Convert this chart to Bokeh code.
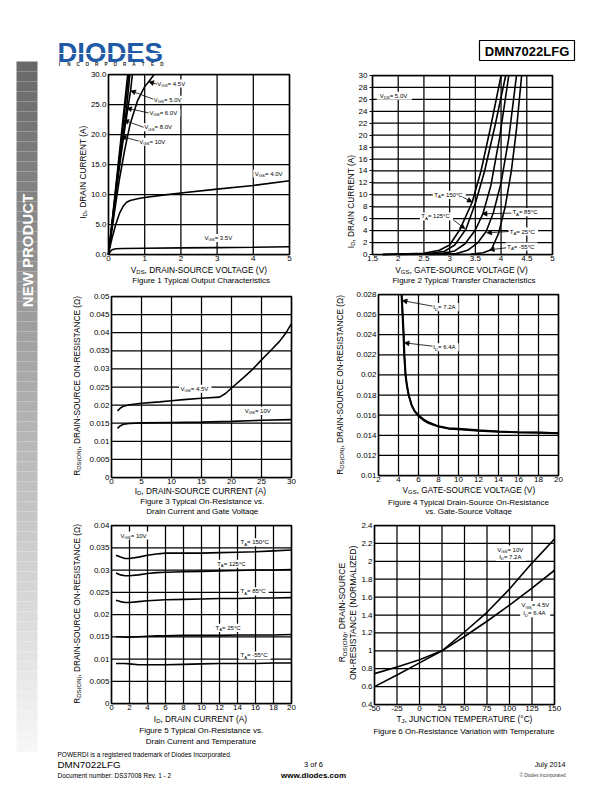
import re, math
from bokeh.plotting import figure
from bokeh.models import Range1d, FixedTicker, Label, Arrow, NormalHead, BoxAnnotation
from bokeh.layouts import row, column
from bokeh.embed import file_html
from bokeh.resources import INLINE

FONT = "Liberation Sans"

# ---------------- Figure 1 : output characteristics ----------------
F1_VDS_10V = [0, 0.1, 0.2, 0.35, 0.53]
F1_ID_10V = [0, 5.5, 11.2, 19.7, 30]
F1_VDS_8V = [0, 0.1, 0.2, 0.42, 0.56]
F1_ID_8V = [0, 5.3, 10.7, 22.4, 30]
F1_VDS_6V = [0, 0.1, 0.2, 0.3, 0.5, 0.59]
F1_ID_6V = [0, 5.2, 10.3, 15.2, 24.4, 30]
F1_VDS_5V = [0, 0.1, 0.2, 0.3, 0.45, 0.61, 0.66]
F1_ID_5V = [0, 5.0, 9.8, 14.5, 21.0, 27.3, 30]
F1_VDS_45V = [0, 0.1, 0.2, 0.3, 0.45, 0.6, 0.8, 1.0, 1.11, 1.26]
F1_ID_45V = [0, 4.3, 8.5, 12.5, 17.5, 21.8, 25.6, 28.0, 28.8, 30]
F1_VDS_4V = [0, 0.05, 0.1, 0.2, 0.3, 0.4, 0.5, 0.6, 0.8, 1.0, 1.5, 2, 3, 4, 5]
F1_ID_4V = [0, 1.5, 2.8, 5.0, 6.8, 8.0, 8.7, 9.0, 9.3, 9.5, 9.9, 10.25, 10.9, 11.5, 12.3]
F1_VDS_35V = [0, 0.05, 0.1, 0.2, 0.4, 1, 2, 3, 4, 5]
F1_ID_35V = [0, 0.5, 0.8, 0.95, 1.0, 1.05, 1.1, 1.15, 1.2, 1.3]
F1_XT = [0, 1, 2, 3, 4, 5]
F1_XL = ["0", "1", "2", "3", "4", "5"]
F1_YT = [0, 5, 10, 15, 20, 25, 30]
F1_YL = ["0.0", "5.0", "10.0", "15.0", "20.0", "25.0", "30.0"]
F1_NOTES = [("V_{GS} = 4.5V", 1.35, 28.5), ("V_{GS} = 5.0V", 1.25, 25.8),
            ("V_{GS} = 6.0V", 1.13, 23.6), ("V_{GS} = 8.0V", 0.99, 21.2),
            ("V_{GS} = 10V", 0.85, 18.8), ("V_{GS} = 4.0V", 4.04, 13.5),
            ("V_{GS} = 3.5V", 2.65, 2.75)]
F1_ARROWS = [(1.34, 28.4, 1.11, 28.8), (1.23, 25.9, 0.61, 27.3), (1.11, 23.6, 0.50, 24.4),
             (0.97, 21.2, 0.42, 22.4), (0.83, 18.9, 0.35, 19.7)]

# ---------------- Figure 2 : transfer characteristics ----------------
F2_VGS_150 = [1.7, 2.5, 2.8, 3.0, 3.2, 3.44, 3.61, 3.8, 4.0]
F2_ID_150 = [0, 0.2, 0.7, 1.6, 4.2, 8.8, 14.0, 21.5, 30]
F2_VGS_125 = [1.7, 2.6, 2.9, 3.1, 3.32, 3.5, 3.68, 3.88, 4.09]
F2_ID_125 = [0, 0.15, 0.55, 1.6, 4.3, 8.6, 14.0, 21.5, 30]
F2_VGS_85 = [1.7, 2.8, 3.1, 3.3, 3.5, 3.65, 3.8, 3.97, 4.15]
F2_ID_85 = [0, 0.1, 0.6, 1.8, 4.1, 6.9, 11.5, 19.5, 30]
F2_VGS_25 = [2.0, 3.1, 3.35, 3.55, 3.71, 3.85, 4.0, 4.15, 4.30]
F2_ID_25 = [0, 0.1, 0.7, 2.0, 3.85, 7.0, 12.0, 19.5, 30]
F2_VGS_M55 = [2.6, 3.4, 3.65, 3.81, 3.95, 4.08, 4.2, 4.3, 4.40]
F2_ID_M55 = [0, 0.05, 0.3, 0.8, 3.5, 8.0, 14.0, 21.0, 30]
F2_XT = [1.5, 2, 2.5, 3, 3.5, 4, 4.5, 5]
F2_XL = ["1.5", "2", "2.5", "3", "3.5", "4", "4.5", "5"]
F2_YT = [0, 2, 4, 6, 8, 10, 12, 14, 16, 18, 20, 22, 24, 26, 28, 30]
F2_YL = ["0", "2", "4", "6", "8", "10", "12", "14", "16", "18", "20", "22", "24", "26", "28", "30"]
F2_NOTES = [("T_{A} = 150°C", 2.70, 10.0), ("T_{A} = 125°C", 2.45, 6.37),
            ("T_{A} = 85°C", 4.22, 7.1), ("T_{A} = 25°C", 4.17, 3.85),
            ("T_{A} = -55°C", 4.12, 1.34)]
F2_ARROWS = [(3.26, 9.6, 3.44, 8.77), (3.07, 5.8, 3.30, 4.3), (4.20, 6.93, 3.63, 6.82),
             (4.15, 3.85, 3.72, 3.63), (4.10, 1.12, 3.77, 0.78)]

# ---------------- Figure 3 : Rds(on) vs ID and VGS ----------------
F3_ID_45 = [1, 1.5, 2, 3, 5, 8, 10, 12, 15, 18, 19, 20.2, 22, 23.6, 25, 26.5, 28, 29.1, 30]
F3_R_45 = [0.0184, 0.0192, 0.0197, 0.0201, 0.0205, 0.0209, 0.0212, 0.0215, 0.0219, 0.0222,
           0.0232, 0.025, 0.0276, 0.030, 0.0325, 0.035, 0.0376, 0.040, 0.0425]
F3_ID_10 = [1, 1.5, 2, 3, 5, 10, 15, 20, 25, 30]
F3_R_10 = [0.0136, 0.0143, 0.0147, 0.0149, 0.0151, 0.0152, 0.0153, 0.0155, 0.0158, 0.0160]
F3_XT = [0, 5, 10, 15, 20, 25, 30]
F3_XL = ["0", "5", "10", "15", "20", "25", "30"]
F3_YT = [0, 0.005, 0.01, 0.015, 0.02, 0.025, 0.03, 0.035, 0.04, 0.045, 0.05]
F3_YL = ["0", "0.005", "0.01", "0.015", "0.02", "0.025", "0.03", "0.035", "0.04", "0.045", "0.05"]
F3_NOTES = [("V_{GS} = 4.5V", 11.5, 0.0245), ("V_{GS} = 10V", 22.2, 0.0184)]

# ---------------- Figure 4 : Rds(on) vs VGS ----------------
F4_VGS_72 = [4.29, 4.39, 4.49, 4.56, 4.69, 4.82, 5.0, 5.3, 5.6, 6.0, 6.5, 7, 8, 9, 10, 12, 14, 16, 18, 20]
F4_R_72 = [0.028, 0.026, 0.024, 0.022, 0.020, 0.0190, 0.0180, 0.0170, 0.0164, 0.0160, 0.0156, 0.0153,
           0.0149, 0.0147, 0.01465, 0.0145, 0.01438, 0.0143, 0.01428, 0.01422]
F4_VGS_64 = [4.33, 4.43, 4.53, 4.6, 4.72, 4.85, 5.03, 5.32, 5.62, 6.0, 6.5, 7, 8, 9, 10, 12, 14, 16, 18, 20]
F4_R_64 = [0.028, 0.026, 0.024, 0.022, 0.020, 0.0190, 0.0180, 0.0170, 0.0164, 0.0159, 0.0155, 0.0152,
           0.01485, 0.01465, 0.0146, 0.01445, 0.01435, 0.01428, 0.01425, 0.0142]
F4_XT = [2, 4, 6, 8, 10, 12, 14, 16, 18, 20]
F4_XL = ["2", "4", "6", "8", "10", "12", "14", "16", "18", "20"]
F4_YT = [0.01, 0.012, 0.014, 0.016, 0.018, 0.02, 0.022, 0.024, 0.026, 0.028]
F4_YL = ["0.01", "0.012", "0.014", "0.016", "0.018", "0.02", "0.022", "0.024", "0.026", "0.028"]
F4_NOTES = [("I_{D} = 7.2A", 7.47, 0.02674), ("I_{D} = 6.4A", 7.47, 0.02276)]
F4_ARROWS = [(7.4, 0.02684, 4.36, 0.0274), (7.4, 0.02286, 4.56, 0.0232)]

# ---------------- Figure 5 : Rds(on) vs ID and temperature ----------------
F5_ID = [0.5, 1, 1.5, 2, 3, 4, 5, 6, 8, 10, 12, 14, 16, 18, 20]
F5_R_150 = [0.0333, 0.0329, 0.0326, 0.0326, 0.0329, 0.0333, 0.0336, 0.0338, 0.0338, 0.0338,
            0.0339, 0.0340, 0.0341, 0.0343, 0.0345]
F5_R_125 = [0.0293, 0.0289, 0.0287, 0.0287, 0.0289, 0.0292, 0.0294, 0.0295, 0.0296, 0.0297,
            0.0298, 0.0299, 0.0300, 0.0300, 0.0301]
F5_R_85 = [0.0232, 0.0229, 0.0227, 0.0227, 0.0229, 0.0231, 0.0232, 0.0233, 0.0234, 0.0235,
           0.0236, 0.0236, 0.0237, 0.0237, 0.0238]
F5_R_25 = [0.0150, 0.0150, 0.0149, 0.0149, 0.0150, 0.0151, 0.0152, 0.0152, 0.0153, 0.0153,
           0.0153, 0.0154, 0.0154, 0.0154, 0.0155]
F5_R_M55 = [0.0090, 0.0090, 0.0090, 0.0089, 0.0087, 0.0087, 0.0087, 0.0087, 0.0088, 0.0089,
            0.0090, 0.0090, 0.0090, 0.0091, 0.0091]
F5_XT = [0, 2, 4, 6, 8, 10, 12, 14, 16, 18, 20]
F5_XL = ["0", "2", "4", "6", "8", "10", "12", "14", "16", "18", "20"]
F5_YT = [0, 0.005, 0.01, 0.015, 0.02, 0.025, 0.03, 0.035, 0.04]
F5_YL = ["0", "0.005", "0.01", "0.015", "0.02", "0.025", "0.03", "0.035", "0.04"]
F5_NOTES = [("V_{GS} = 10V", 1.0, 0.03775), ("T_{A} = 150°C", 14.33, 0.03625),
            ("T_{A} = 125°C", 11.74, 0.0314), ("T_{A} = 85°C", 14.33, 0.0252),
            ("T_{A} = 25°C", 11.56, 0.0170), ("T_{A} = -55°C", 14.33, 0.0108)]

# ---------------- Figure 6 : Rds(on) vs temperature ----------------
F6_TJ = [-50, -25, 0, 25, 50, 75, 100, 125, 150]
F6_R_10V = [0.60, 0.73, 0.865, 1.0, 1.21, 1.43, 1.69, 1.98, 2.25]
F6_R_45V = [0.745, 0.82, 0.90, 1.0, 1.16, 1.33, 1.51, 1.70, 1.90]
F6_XT = [-50, -25, 0, 25, 50, 75, 100, 125, 150]
F6_XL = ["-50", "-25", "0", "25", "50", "75", "100", "125", "150"]
F6_YT = [0.4, 0.6, 0.8, 1.0, 1.2, 1.4, 1.6, 1.8, 2.0, 2.2, 2.4]
F6_YL = ["0.4", "0.6", "0.8", "1", "1.2", "1.4", "1.6", "1.8", "2", "2.2", "2.4"]
F6_NOTES = [("V_{GS} = 10V", 86.3, 2.13), ("I_{D} = 7.2A", 88.5, 2.05),
            ("V_{GS} = 4.5V", 113.3, 1.51), ("I_{D} = 6.4A", 115.2, 1.42)]

# ---------------- text helpers ----------------
ARIAL = {' ': 278, '!': 278, '(': 333, ')': 333, ',': 278, '-': 333, '.': 278, '/': 278, ':': 278,
         '=': 584, '°': 400, 'Ω': 768, '©': 737,
         'A': 667, 'B': 667, 'C': 722, 'D': 722, 'E': 667, 'F': 611, 'G': 778, 'H': 722, 'I': 278,
         'J': 500, 'K': 667, 'L': 556, 'M': 833, 'N': 722, 'O': 778, 'P': 667, 'Q': 778, 'R': 722,
         'S': 667, 'T': 611, 'U': 722, 'V': 667, 'W': 944, 'X': 667, 'Y': 667, 'Z': 611,
         'a': 556, 'b': 556, 'c': 500, 'd': 556, 'e': 556, 'f': 278, 'g': 556, 'h': 556, 'i': 222,
         'j': 222, 'k': 500, 'l': 222, 'm': 833, 'n': 556, 'o': 556, 'p': 556, 'q': 556, 'r': 333,
         's': 500, 't': 278, 'u': 556, 'v': 500, 'w': 722, 'x': 500, 'y': 500, 'z': 500}
SUB_RE = re.compile(r'_\{([^}]*)\}')


def text_w(s, size):
    return sum(ARIAL.get(c, 556) for c in s) / 1000.0 * size


def segments(s):
    out, pos = [], 0
    for m in SUB_RE.finditer(s):
        if m.start() > pos:
            out.append((s[pos:m.start()], False))
        out.append((m.group(1), True))
        pos = m.end()
    if pos < len(s):
        out.append((s[pos:], False))
    return out


def rich_width(s, size):
    return sum(text_w(t, size * 0.72 if sb else size) for t, sb in segments(s))


def rich(p, x, y, s, size, align="left", angle=0.0, color="black", bold=False):
    segs = segments(s)
    total = rich_width(s, size)
    off = {"left": 0.0, "center": -total / 2.0, "right": -total}[align]
    for t, sb in segs:
        sz = size * 0.72 if sb else size
        perp = -size * 0.32 if sb else 0.0
        if angle == 0:
            xo, yo = off, perp
        else:
            xo, yo = -perp, off
        p.add_layout(Label(x=x, y=y, x_offset=xo, y_offset=yo, text=t, angle=angle,
                           text_font=FONT, text_font_size="%.1fpx" % sz,
                           text_font_style="bold" if bold else "normal",
                           text_color=color, text_align="left", text_baseline="middle"))
        off += text_w(t, sz)


class Chart:
    """A chart cell whose plot frame fills the whole cell; the chart box is placed inside it
    by the data ranges and its axes are pinned to the box edges (fixed_location)."""

    def __init__(self, origin, size, box, xr, yr, xt, xl, yt, yl, ytick_out=0):
        ox, oy = origin
        w, h = size
        self.fl, self.ft, self.fr, self.fb = box
        self.xr, self.yr = xr, yr
        self.sx = (xr[1] - xr[0]) / (self.fr - self.fl)
        self.sy = (yr[1] - yr[0]) / (self.fb - self.ft)
        X0 = xr[0] - (self.fl - ox) * self.sx
        X1 = xr[1] + (ox + w - self.fr) * self.sx
        Y0 = yr[0] - (oy + h - self.fb) * self.sy
        Y1 = yr[1] + (self.ft - oy) * self.sy
        p = figure(width=w, height=h, x_range=Range1d(X0, X1), y_range=Range1d(Y0, Y1),
                   output_backend="svg", toolbar_location=None, min_border=0)
        p.outline_line_color = None
        p.grid.visible = False
        p.xaxis.fixed_location = yr[0]
        p.yaxis.fixed_location = xr[0]
        p.xaxis.bounds = xr
        p.yaxis.bounds = yr
        p.xaxis.ticker = FixedTicker(ticks=xt)
        p.xaxis.major_label_overrides = {t: l for t, l in zip(xt, xl)}
        p.yaxis.ticker = FixedTicker(ticks=yt)
        p.yaxis.major_label_overrides = {t: l for t, l in zip(yt, yl)}
        for ax in (p.xaxis[0], p.yaxis[0]):
            ax.axis_line_color = None
            ax.minor_tick_line_color = None
            ax.major_tick_in = 0
            ax.major_tick_out = 0
            ax.major_label_text_font = FONT
            ax.major_label_text_font_size = "8px"
            ax.major_label_text_color = "black"
        p.xaxis.major_label_standoff = 1
        p.yaxis.major_label_standoff = 2
        if ytick_out:
            p.yaxis.major_tick_out = ytick_out
            p.yaxis.major_tick_line_color = "black"
            p.yaxis.major_tick_line_width = 1.2
        # grid lines at the tick values, limited to the chart box
        p.segment(x0=xt, y0=[yr[0]] * len(xt), x1=xt, y1=[yr[1]] * len(xt),
                  line_color="black", line_width=1.25)
        p.segment(x0=[xr[0]] * len(yt), y0=yt, x1=[xr[1]] * len(yt), y1=yt,
                  line_color="black", line_width=1.25)
        self.p = p

    def frame(self):
        self.p.quad(left=self.xr[0], right=self.xr[1], bottom=self.yr[0], top=self.yr[1],
                    fill_color=None, line_color="black", line_width=1.5)

    def d(self, px, py):
        return self.xr[0] + (px - self.fl) * self.sx, self.yr[0] + (self.fb - py) * self.sy

    def text(self, px, py, s, size=8.0, align="center", angle=0.0):
        x, y = self.d(px, py)
        rich(self.p, x, y, s, size, align=align, angle=angle)

    def note(self, x, y, s, size=6.0, pad=1.5):
        total = rich_width(s, size)
        self.p.rect(x=x + (total / 2.0) * self.sx, y=y, width=total + 2 * pad, height=size * 1.35,
                    width_units="screen", height_units="screen", fill_color="white", line_color=None)
        rich(self.p, x, y, s, size)

    def arrow(self, x0, y0, x1, y1):
        self.p.add_layout(Arrow(end=NormalHead(size=5, fill_color="black", line_color="black", line_width=0.5),
                                x_start=x0, y_start=y0, x_end=x1, y_end=y1,
                                line_color="black", line_width=0.8))

    def curve(self, xs, ys, w=1.6):
        self.p.line(xs, ys, line_color="black", line_width=w)


YLAB_I = "I_{D}, DRAIN CURRENT (A)"
YLAB_R = "R_{DS(ON)}, DRAIN-SOURCE ON-RESISTANCE (Ω)"
AX = 8.3
CAP = 8.0
UP = math.pi / 2

# ---- Figure 1
c1 = Chart((48, 66), (278, 221), (108, 74, 289, 254), (0, 5), (0, 30), F1_XT, F1_XL, F1_YT, F1_YL)
for s, x, y in F1_NOTES:
    c1.note(x, y, s)
for xs, ys in [(F1_VDS_10V, F1_ID_10V), (F1_VDS_8V, F1_ID_8V), (F1_VDS_6V, F1_ID_6V),
               (F1_VDS_5V, F1_ID_5V), (F1_VDS_45V, F1_ID_45V), (F1_VDS_4V, F1_ID_4V),
               (F1_VDS_35V, F1_ID_35V)]:
    c1.curve(xs, ys)
c1.frame()
for a in F1_ARROWS:
    c1.arrow(*a)
c1.text(82, 171.7, YLAB_I, AX, angle=UP)
c1.text(199, 269.3, "V_{DS}, DRAIN-SOURCE VOLTAGE (V)", AX)
c1.text(201, 279.5, "Figure 1 Typical Output Characteristics", CAP)

# ---- Figure 2
c2 = Chart((326, 66), (278, 221), (372, 75, 552, 254), (1.5, 5), (0, 30), F2_XT, F2_XL, F2_YT, F2_YL, ytick_out=3)
c2.note(1.64, 26.6, "V_{DS} = 5.0V", pad=3)
for s, x, y in F2_NOTES:
    c2.note(x, y, s)
for xs, ys in [(F2_VGS_150, F2_ID_150), (F2_VGS_125, F2_ID_125), (F2_VGS_85, F2_ID_85),
               (F2_VGS_25, F2_ID_25), (F2_VGS_M55, F2_ID_M55)]:
    c2.curve(xs, ys)
c2.frame()
for a in F2_ARROWS:
    c2.arrow(*a)
c2.text(350, 201, YLAB_I, AX, angle=UP)
c2.text(462, 269, "V_{GS}, GATE-SOURCE VOLTAGE (V)", AX)
c2.text(464, 279.5, "Figure 2 Typical Transfer Characteristics", CAP)

# ---- Figure 3
c3 = Chart((48, 287), (278, 228), (111, 296, 291, 477), (0, 30), (0, 0.05), F3_XT, F3_XL, F3_YT, F3_YL)
for s, x, y in F3_NOTES:
    c3.note(x, y, s)
c3.curve(F3_ID_45, F3_R_45)
c3.curve(F3_ID_10, F3_R_10)
c3.frame()
c3.text(76, 385, YLAB_R, AX, angle=UP)
c3.text(200, 490, "I_{D}, DRAIN-SOURCE CURRENT (A)", AX)
c3.text(202, 500.5, "Figure 3 Typical On-Resistance vs.", CAP)
c3.text(202, 511, "Drain Current and Gate Voltage", CAP)

# ---- Figure 4
c4 = Chart((326, 287), (278, 228), (378, 294, 558, 475), (2, 20), (0.01, 0.028), F4_XT, F4_XL, F4_YT, F4_YL)
for s, x, y in F4_NOTES:
    c4.note(x, y, s)
c4.curve(F4_VGS_72, F4_R_72, 1.8)
c4.curve(F4_VGS_64, F4_R_64, 1.8)
c4.frame()
for a in F4_ARROWS:
    c4.arrow(*a)
c4.text(339.3, 384, YLAB_R, AX, angle=UP)
c4.text(469.3, 489, "V_{GS}, GATE-SOURCE VOLTAGE (V)", AX)
c4.text(468.3, 501.5, "Figure 4 Typical Drain-Source On-Resistance", CAP)
c4.text(468.3, 510.5, "vs. Gate-Source Voltage", CAP)

# ---- Figure 5
c5 = Chart((48, 515), (278, 230), (111, 525, 291, 703), (0, 20), (0, 0.04), F5_XT, F5_XL, F5_YT, F5_YL)
for s, x, y in F5_NOTES:
    c5.note(x, y, s)
for ys in [F5_R_150, F5_R_125, F5_R_85, F5_R_25, F5_R_M55]:
    c5.curve(F5_ID, ys)
c5.frame()
c5.text(76, 613, YLAB_R, AX, angle=UP)
c5.text(200, 718, "I_{D}, DRAIN CURRENT (A)", AX)
c5.text(201, 729.5, "Figure 5 Typical On-Resistance vs.", CAP)
c5.text(201, 740.5, "Drain Current and Temperature", CAP)

# ---- Figure 6
c6 = Chart((326, 515), (278, 230), (374, 525, 554, 704), (-50, 150), (0.4, 2.4), F6_XT, F6_XL, F6_YT, F6_YL)
for s, x, y in F6_NOTES:
    c6.note(x, y, s, pad=3)
c6.curve(F6_TJ, F6_R_10V)
c6.curve(F6_TJ, F6_R_45V)
c6.frame()
c6.text(341, 612, "R_{DS(ON)}, DRAIN-SOURCE", 8.6, angle=UP)
c6.text(352.7, 612, "ON-RESISTANCE (NORMALIZED)", 8.6, angle=UP)
c6.text(464.3, 718, "T_{J}, JUNCTION TEMPERATURE (°C)", AX)
c6.text(464.3, 730.5, "Figure 6 On-Resistance Variation with Temperature", CAP)


# ---------------- page decorations ----------------
def canvas(w, h):
    p = figure(width=w, height=h, x_range=Range1d(0, w), y_range=Range1d(0, h),
               x_axis_type=None, y_axis_type=None, output_backend="svg",
               toolbar_location=None, min_border=0)
    p.grid.visible = False
    p.outline_line_color = None
    return p


def lab(p, x, y, s, size, align="left", bold=False, color="black", angle=0.0):
    p.add_layout(Label(x=x, y=y, text=s, text_font=FONT, text_font_size="%.1fpx" % size,
                       text_font_style="bold" if bold else "normal", text_color=color,
                       text_align=align, text_baseline="middle", angle=angle))


# sidebar (page x 0..48)
SB_H = 785
side = canvas(48, SB_H)
n = 69
tops, bots, cols = [], [], []
for i in range(n):
    py0 = 61 + i * 10
    tops.append(SB_H - py0)
    bots.append(SB_H - (py0 + 10))
    g = int(round(105 + (246 - 105) * i / (n - 1)))
    cols.append("#%02x%02x%02x" % (g, g, g))
side.quad(left=16, right=37, top=tops, bottom=bots, fill_color=cols, line_color=None)
lab(side, 27, SB_H - 250, "NEW PRODUCT", 15, align="center", bold=True, color="white", angle=UP)

# header (page x 48..604, y 0..66)
HH = 66
head = canvas(556, HH)
lab(head, 9, HH - 51.5, "DIODES", 27.5, bold=True, color="#1f5aa6")
head.add_layout(BoxAnnotation(left=8, right=118, bottom=HH - 53.4, top=HH - 52.4,
                              fill_color="white", fill_alpha=1.0, line_color=None))
for i, ch in enumerate("INCORPORATED"):
    lab(head, 11 + i * 9.3, HH - 64, ch, 4.6, align="center", bold=True, color="#222222")
head.quad(left=431, right=526, top=HH - 40, bottom=HH - 60, fill_color=None, line_color="black", line_width=1.2)
lab(head, 478.5, HH - 50.5, "DMN7022LFG", 13, align="center", bold=True)

# footer (page x 48..604, y 745..785)
FH = 40
foot = canvas(556, FH)
lab(foot, 9, FH - 9, "POWERDI is a registered trademark of Diodes Incorporated.", 6.5)
lab(foot, 9, FH - 19, "DMN7022LFG", 9.8)
lab(foot, 9, FH - 30, "Document number: DS37008  Rev. 1 - 2", 6.5)
lab(foot, 265, FH - 19, "3 of 6", 7.5, align="center")
lab(foot, 265, FH - 30, "www.diodes.com", 8, align="center", bold=True)
lab(foot, 517, FH - 19, "July 2014", 7.2, align="right")
lab(foot, 517, FH - 30, "© Diodes Incorporated", 4.6, align="right", color="#444444")

page = row(side, column(head, row(c1.p, c2.p), row(c3.p, c4.p), row(c5.p, c6.p), foot))
open("out.html", "w").write(file_html(page, INLINE))
